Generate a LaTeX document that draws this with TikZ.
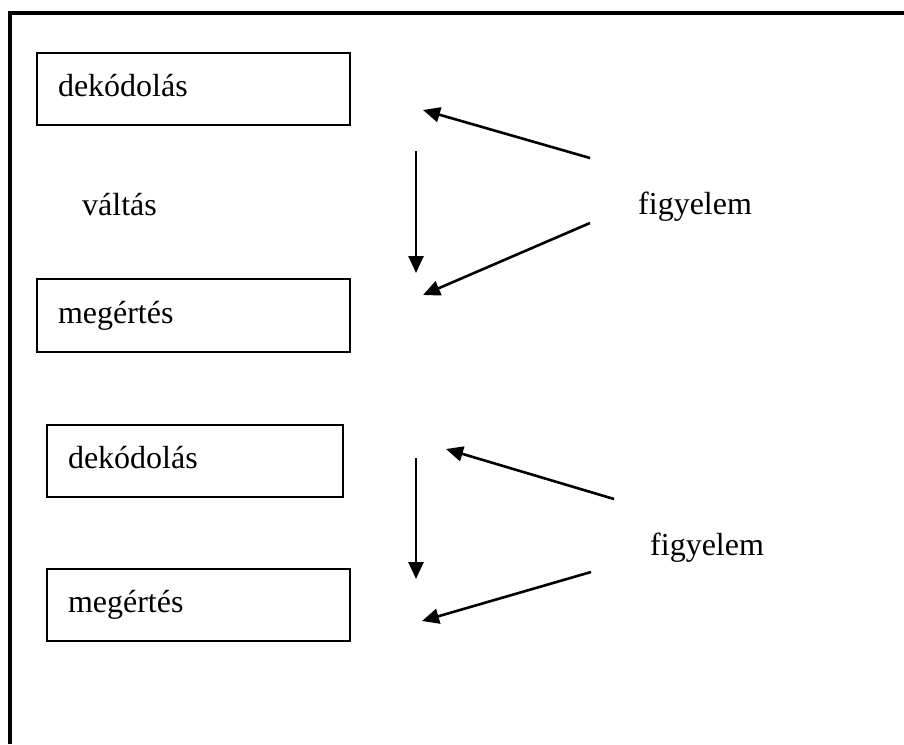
\documentclass[tikz,border=0pt]{standalone}
\usepackage{fontspec}
\setmainfont{Liberation Serif}
\usetikzlibrary{arrows.meta}
\begin{document}
\begin{tikzpicture}[x=1pt,y=-1pt,
  box/.style={draw,line width=2.2pt,rectangle,inner xsep=21pt,inner ysep=0pt,
    text height=22pt,text depth=7pt,align=left,minimum height=72pt},
  lbl/.style={anchor=base west,inner sep=0pt},
  arr/.style={line width=2.6pt,-{Triangle[length=17pt,width=15pt]}},
  every node/.style={font=\fontsize{32}{38}\selectfont}]
\useasboundingbox (0,0) rectangle (904,744);
\draw[line width=3.6pt] (10,744) -- (10,13) -- (904,13);
% boxes
\node[box,text width=271pt] (dek1) at (193.5,89) {dekódolás};
\node[box,text width=271pt,minimum height=73pt] (meg1) at (193.5,315.5) {megértés};
\node[box,text width=254pt] (dek2) at (195,461) {dekódolás};
\node[box,text width=261pt] (meg2) at (198.5,605) {megértés};
% labels
\node[lbl] (valt) at (82,215) {váltás};
\node[lbl] (fig1) at (638,214) {figyelem};
\node[lbl] (fig2) at (650,555) {figyelem};
% arrow end points
\coordinate (a1s) at (590,158); \coordinate (a1e) at (423,110);
\coordinate (v1s) at (416,151); \coordinate (v1e) at (416,273);
\coordinate (b1s) at (590,223); \coordinate (b1e) at (423,295);
\coordinate (a2s) at (614,499); \coordinate (a2e) at (446,449);
\coordinate (v2s) at (416,458); \coordinate (v2e) at (416,579);
\coordinate (b2s) at (591,572); \coordinate (b2e) at (422,621);
\draw[arr] (a1s) -- (a1e);
\draw[arr] (v1s) -- (v1e);
\draw[arr] (b1s) -- (b1e);
\draw[arr] (a2s) -- (a2e);
\draw[arr] (v2s) -- (v2e);
\draw[arr] (b2s) -- (b2e);
\end{tikzpicture}
\end{document}
